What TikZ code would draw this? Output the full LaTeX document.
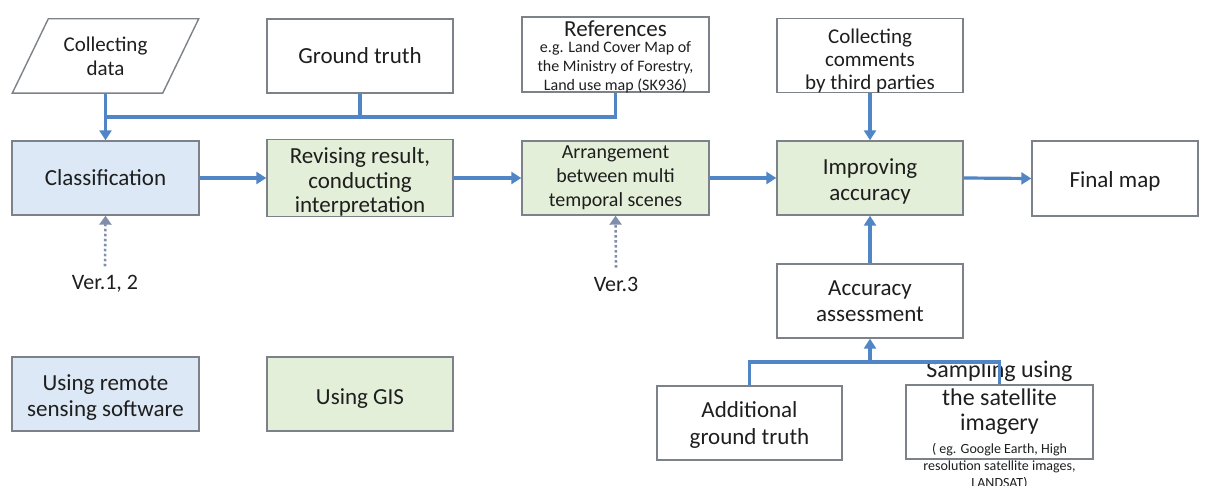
\documentclass[tikz,border=0pt]{standalone}
\usepackage{fontspec}
\setmainfont{Carlito}
\usetikzlibrary{arrows.meta}
\definecolor{arrowblue}{RGB}{80,134,198}
\definecolor{boxgray}{RGB}{125,130,138}
\definecolor{bluefill}{RGB}{220,232,245}
\definecolor{greenfill}{RGB}{227,239,216}
\definecolor{dotblue}{RGB}{127,143,169}
\definecolor{txt}{RGB}{30,30,30}
% invisible strut that pushes a centred text block downwards
\newcommand{\dropstrut}[1]{\rule{0pt}{#1}}
\tikzset{
  box/.style={draw=boxgray, line width=1.4pt, minimum width=187, minimum height=74,
    inner sep=0pt, align=center, text=txt, font=\fontsize{23}{26}\selectfont},
  bluebox/.style={box, fill=bluefill},
  greenbox/.style={box, fill=greenfill},
  plain/.style={inner sep=0pt, align=center, text=txt},
  flow/.style={draw=arrowblue, line width=3.2pt, -{Triangle[width=12pt,length=10pt]}},
  bus/.style={draw=arrowblue, line width=3.2pt},
  dotflow/.style={draw=dotblue, line width=2.6pt, dash pattern=on 2.5pt off 2.5pt,
    -{Triangle[width=12pt,length=9pt,color=dotblue]}},
  verlabel/.style={plain, inner sep=9pt, font=\fontsize{22}{26}\selectfont}
}
\begin{document}
\begin{tikzpicture}[x=1pt,y=-1pt]
\useasboundingbox (0,0) rectangle (1206,486);

% input parallelogram
\node[plain, minimum width=150, minimum height=74, font=\fontsize{21}{24}\selectfont]
  (data) at (105.5,56) {Collecting\\data};
\draw[boxgray, line width=1.4pt] ([xshift=18pt]data.north west) -- ([xshift=18pt]data.north east)
  -- ([xshift=-18pt]data.south east) -- ([xshift=-18pt]data.south west) -- cycle;

% top row
\node[box, minimum width=186] (gt) at (360,56) {Ground truth};
\node[box, minimum height=75] (ref) at (615.5,54.5) {};
\node[plain, font=\fontsize{16}{19}\selectfont] (reftxt) at (615.5,57)
  {{\fontsize{23}{19}\selectfont References}\\[-2.5pt]e.g. Land Cover Map of\\the Ministry of Forestry,\\Land use map (SK936)};
\node[box, minimum width=186, minimum height=73, font=\fontsize{21}{23}\selectfont]
  (cmt) at (870,55.5) {\dropstrut{25pt}Collecting\\comments\\by third parties};

% main process row
\node[bluebox] (cls) at (105.5,178) {Classification};
\node[greenbox, minimum width=186, font=\fontsize{23}{24.5}\selectfont] (rev) at (360,178)
  {\dropstrut{24.5pt}Revising result,\\conducting\\interpretation};
\node[greenbox, font=\fontsize{20}{24}\selectfont] (arr) at (615.5,178)
  {Arrangement\\between multi\\temporal scenes};
\node[greenbox, minimum width=186] (imp) at (870,178) {\dropstrut{23pt}Improving\\accuracy};
\node[box, minimum width=166, minimum height=75] (fin) at (1115,178.5) {\dropstrut{21.5pt}Final map};

% version labels
\node[verlabel] (ver12) at (105,284) {Ver.1, 2};
\node[verlabel] (ver3) at (616,284) {Ver.3};

% accuracy branch
\node[box, minimum width=186] (acc) at (870,301) {Accuracy\\assessment};
\node[box, minimum width=185, font=\fontsize{23}{27}\selectfont] (agt) at (749.5,423)
  {\dropstrut{20.5pt}Additional\\ground truth};
\node[box] (samp) at (999.5,422) {};
\node[plain, font=\fontsize{14}{17}\selectfont] (samptxt) at (999.5,425)
  {{\fontsize{24}{17}\selectfont Sampling using}\\[6pt]{\fontsize{24}{17}\selectfont the satellite}\\[8pt]{\fontsize{24}{17}\selectfont imagery}\\[6pt]( eg. Google Earth, High\\resolution satellite images,\\LANDSAT)};

% legend
\node[bluebox] (rs) at (105.5,394) {\dropstrut{22pt}Using remote\\sensing software};
\node[greenbox, minimum width=186] (gis) at (360,394) {\dropstrut{24pt}Using GIS};

% connectors
\coordinate (busTop) at (105.5,117);
\draw[bus] (gt.south) -- (gt.south |- busTop);
\draw[bus] (ref.south) |- (busTop);
\draw[flow] (data.south) -- (cls.north);
\draw[flow] (cls.east) -- (rev.west);
\draw[flow] (rev.east) -- (arr.west);
\draw[flow] (arr.east) -- (imp.west);
\draw[flow] (imp.east) -- (fin.west);
\draw[flow] (cmt.south) -- (imp.north);
\draw[flow] (acc.north) -- (imp.south);
\coordinate (busLow) at (870,362);
\draw[bus] (agt.north) |- (samp.north |- busLow) -- (samp.north);
\draw[flow] (busLow) -- (acc.south);
\draw[dotflow] (ver12.north) -- (cls.south);
\draw[dotflow] (ver3.north) -- (arr.south);
\end{tikzpicture}
\end{document}
